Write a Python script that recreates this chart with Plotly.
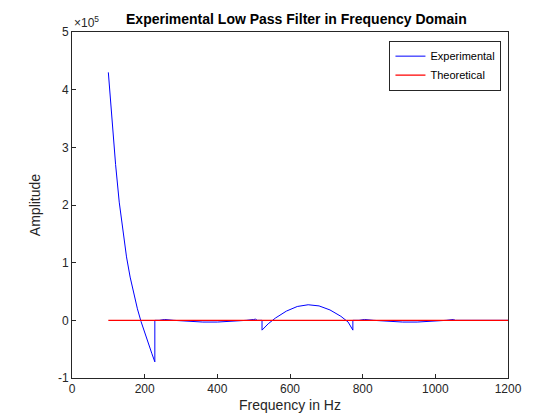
import plotly.graph_objects as go

exp_x = [100,105,110,120,130,140,150,160,170,180,190,200,210,220,228,228,
         240,255,280,320,360,400,440,480,500,505,510,523,523,
         540,560,590,620,650,680,710,740,760,773,773,
         790,805,830,870,910,950,990,1030,1050,1055,1100,1200]
exp_y = [4.3,3.9,3.45,2.7,2.05,1.52,1.1,0.75,0.45,0.2,-0.02,-0.22,-0.4,-0.58,-0.72,0.0,
         0.0,0.015,0.0,-0.02,-0.03,-0.03,-0.02,0.0,0.015,0.02,0.0,0.0,-0.17,
         -0.06,0.04,0.16,0.24,0.27,0.25,0.18,0.07,-0.03,-0.17,0.0,
         0.0,0.015,0.0,-0.02,-0.03,-0.03,-0.02,0.0,0.015,0.0,0.0,0.0]
theo_x = [100, 1200]
theo_y = [0.0, 0.0]
scale = 1e5

fig = go.Figure()
fig.add_trace(go.Scatter(x=exp_x, y=[v*scale for v in exp_y], mode="lines",
                         line=dict(color="#0000ff", width=1), name="Experimental"))
fig.add_trace(go.Scatter(x=theo_x, y=[v*scale for v in theo_y], mode="lines",
                         line=dict(color="#ff0000", width=1.3), name="Theoretical"))
ax = dict(showline=True, mirror=True, linecolor="#262626", linewidth=1, ticks="inside",
          ticklen=4, tickcolor="#262626", showgrid=False, zeroline=False,
          tickfont=dict(family="Liberation Sans, Arial", size=12, color="#262626"))
fig.update_layout(
    width=560, height=420, paper_bgcolor="white", plot_bgcolor="white",
    margin=dict(l=64, r=60, t=24, b=50),
    title=dict(text="<b>Experimental Low Pass Filter in Frequency Domain</b>", x=0.515, y=0.985,
               xanchor="center", yanchor="top",
               font=dict(family="Liberation Sans, Arial", size=14, color="black")),
    xaxis=dict(range=[0,1200], tickvals=[0,200,400,600,800,1000,1200],
               title=dict(text="Frequency in Hz", standoff=4,
                          font=dict(family="Liberation Sans, Arial", size=14, color="#262626")), **ax),
    yaxis=dict(range=[-1e5,5e5], tickvals=[i*scale for i in range(-1,6)],
               ticktext=[str(i) for i in range(-1,6)],
               title=dict(text="Amplitude", standoff=14,
                          font=dict(family="Liberation Sans, Arial", size=14, color="#262626")), **ax),
    legend=dict(x=0.985, y=0.975, xanchor="right", yanchor="top", bgcolor="white",
                bordercolor="#262626", borderwidth=1, tracegroupgap=0,
                font=dict(family="Liberation Sans, Arial", size=11, color="black")),
    showlegend=True,
)
fig.add_annotation(text="×10<sup>5</sup>", xref="paper", yref="paper", x=0, y=1.0,
                   xanchor="left", yanchor="bottom", showarrow=False,
                   font=dict(family="Liberation Sans, Arial", size=12, color="#262626"))
fig.write_html("out.html")
